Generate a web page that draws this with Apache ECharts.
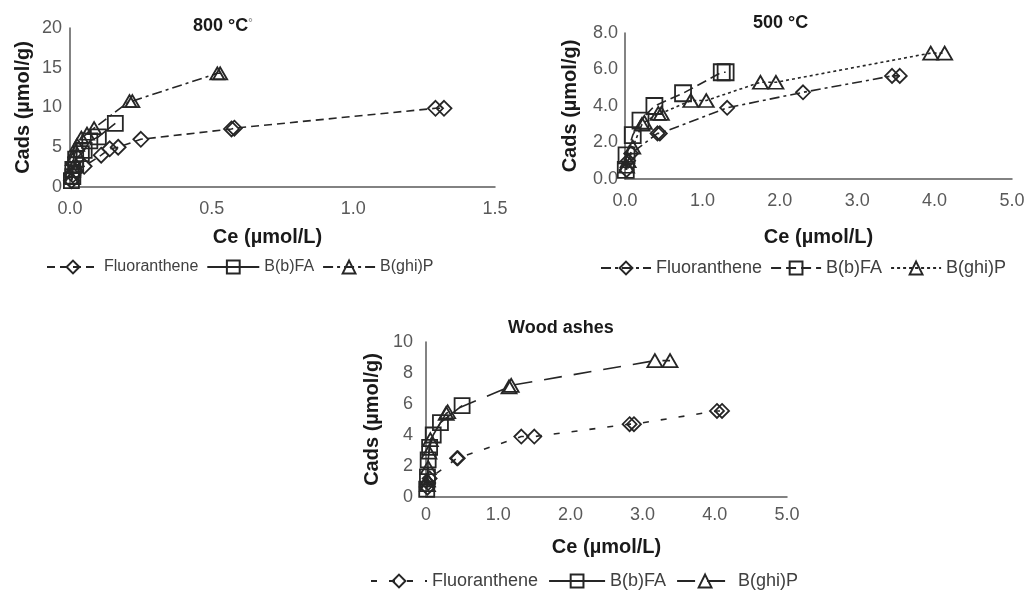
<!DOCTYPE html>
<html>
<head>
<meta charset="utf-8">
<script src="https://cdn.jsdelivr.net/npm/echarts@6/dist/echarts.min.js"></script>
<style>
html, body { margin: 0; padding: 0; background: #fff; }
#myChart { width: 1027px; height: 591px; }
</style>
</head>
<body>
<div id="myChart"></div>
<script>
// 800 °C panel  [Ce, Cads]
const fluo800 = [[0.005, 0.8], [0.01, 1.5], [0.02, 2.0], [0.05, 2.6], [0.11, 4.0], [0.14, 4.8], [0.17, 5.0], [0.25, 6.0], [0.57, 7.3], [0.58, 7.4], [1.29, 9.9], [1.32, 9.9]]
const bbfa800 = [[0.005, 0.8], [0.01, 1.3], [0.01, 2.2], [0.02, 2.8], [0.02, 3.5], [0.04, 4.2], [0.05, 4.6], [0.07, 5.8], [0.1, 6.3], [0.16, 8.0]]
const bghip800 = [[0.005, 1.2], [0.01, 2.5], [0.01, 3.5], [0.02, 4.5], [0.025, 5.3], [0.04, 6.2], [0.06, 6.7], [0.085, 7.4], [0.21, 10.8], [0.22, 10.8], [0.52, 14.3], [0.53, 14.3]]
// 500 °C panel
const fluo500 = [[0.02, 0.5], [0.04, 1.0], [0.08, 1.4], [0.42, 2.5], [0.45, 2.5], [1.32, 3.9], [2.3, 4.75], [3.45, 5.65], [3.55, 5.65]]
const bbfa500 = [[0.01, 0.5], [0.02, 1.3], [0.1, 2.4], [0.2, 3.2], [0.38, 4.0], [0.75, 4.7], [1.25, 5.85], [1.3, 5.85]]
const bghip500 = [[0.02, 0.7], [0.04, 1.0], [0.1, 1.75], [0.22, 3.0], [0.25, 3.1], [0.43, 3.6], [0.47, 3.6], [0.85, 4.3], [1.05, 4.3], [1.75, 5.3], [1.95, 5.3], [3.95, 6.9], [4.13, 6.9]]
// Wood ashes panel
const fluoWood = [[0.02, 0.6], [0.03, 0.9], [0.05, 1.2], [0.43, 2.5], [0.44, 2.5], [1.32, 3.9], [1.5, 3.9], [2.82, 4.7], [2.88, 4.7], [4.03, 5.55], [4.1, 5.55]]
const bbfaWood = [[0.01, 0.5], [0.02, 1.3], [0.03, 2.4], [0.05, 3.2], [0.1, 4.0], [0.2, 4.8], [0.5, 5.9]]
const bghipWood = [[0.02, 0.8], [0.02, 1.1], [0.03, 1.9], [0.04, 2.9], [0.06, 3.7], [0.28, 5.4], [0.3, 5.5], [1.15, 7.1], [1.18, 7.2], [3.17, 8.8], [3.38, 8.8]]

// tick labels
const xTicks800 = ['0.0', '0.5', '1.0', '1.5']
const yTicks800 = ['0', '5', '10', '15', '20']
const xTicks500 = ['0.0', '1.0', '2.0', '3.0', '4.0', '5.0']
const yTicks500 = ['0.0', '2.0', '4.0', '6.0', '8.0']
const xTicksWood = ['0', '1.0', '2.0', '3.0', '4.0', '5.0']
const yTicksWood = ['0', '2', '4', '6', '8', '10']

const titles = ['800 °C{s|°}', '500 °C', 'Wood ashes']
const seriesNames = ['Fluoranthene', 'B(b)FA', 'B(ghi)P']

const FONT = '"Liberation Sans", Arial, sans-serif'
const INK = '#262626'

function tickAxis (ticks, idx, name, gap, nameStyle, labelMargin) {
  let min = parseFloat(ticks[0])
  let max = parseFloat(ticks[ticks.length - 1])
  let step = (max - min) / (ticks.length - 1)
  return {
    type: 'value',
    gridIndex: idx,
    min: min,
    max: max,
    interval: step,
    name: name,
    nameLocation: 'middle',
    nameGap: gap,
    nameTextStyle: Object.assign({ fontSize: 20, fontWeight: 'bold', color: '#1a1a1a', fontFamily: FONT }, nameStyle),
    splitLine: { show: false },
    axisTick: { show: false },
    axisLine: { onZero: false, lineStyle: { color: '#5a5a5a', width: 1.5 } },
    axisLabel: {
      fontSize: 18,
      color: '#595959',
      fontFamily: FONT,
      margin: labelMargin,
      formatter: function (v) { return ticks[Math.round((v - min) / step)] }
    }
  }
}

function mkSeries (name, idx, data, symbol, size, dash) {
  return {
    name: name + '|' + idx,
    type: 'line',
    xAxisIndex: idx,
    yAxisIndex: idx,
    data: data,
    symbol: symbol,
    symbolSize: size,
    lineStyle: { color: INK, width: 1.6, type: dash },
    itemStyle: { color: 'rgba(255,255,255,0)', borderColor: INK, borderWidth: 1.8 },
    emphasis: { disabled: true }
  }
}

function mkLegend (idx, left, top, iconW, gap, fontSize) {
  return {
    data: seriesNames.map(n => n + '|' + idx),
    left: left,
    top: top,
    width: 600,
    padding: 0,
    itemWidth: iconW,
    itemHeight: 16,
    itemGap: gap,
    selectedMode: false,
    formatter: function (n) { return n.split('|')[0] },
    textStyle: { fontSize: fontSize, color: '#404040', fontFamily: FONT }
  }
}

function drawChart () {
  let myChart = echarts.init(document.getElementById('myChart'))
  myChart.setOption({
    animation: false,
    backgroundColor: '#fff',
    title: [
      { text: titles[0], left: 193, top: 17, padding: 0, textStyle: { fontSize: 18, fontWeight: 'bold', color: '#1a1a1a', fontFamily: FONT, rich: { s: { fontSize: 11, color: '#9a9a9a', verticalAlign: 'top', fontFamily: FONT } } } },
      { text: titles[1], left: 753, top: 14, padding: 0, textStyle: { fontSize: 18, fontWeight: 'bold', color: '#1a1a1a', fontFamily: FONT } },
      { text: titles[2], left: 508, top: 319, padding: 0, textStyle: { fontSize: 18, fontWeight: 'bold', color: '#1a1a1a', fontFamily: FONT } }
    ],
    legend: [
      mkLegend(0, 46, 259, 52, 8, 16),
      mkLegend(1, 600, 259, 50, 8, 18),
      mkLegend(2, 370, 572, 56, 10, 18)
    ],
    grid: [
      { left: 70, top: 28, width: 425, height: 159, outerBoundsMode: 'none' },
      { left: 625, top: 33, width: 387, height: 146, outerBoundsMode: 'none' },
      { left: 426, top: 342, width: 361, height: 155, outerBoundsMode: 'none' }
    ],
    xAxis: [
      tickAxis(xTicks800, 0, 'Ce (µmol/L)', 40, { padding: [0, 30, 0, 0] }, 13),
      tickAxis(xTicks500, 1, 'Ce (µmol/L)', 48, {}, 13),
      tickAxis(xTicksWood, 2, 'Ce (µmol/L)', 40, {}, 9)
    ],
    yAxis: [
      tickAxis(yTicks800, 0, 'Cads (µmol/g)', 37, {}, 8),
      tickAxis(yTicks500, 1, 'Cads (µmol/g)', 45, {}, 7),
      tickAxis(yTicksWood, 2, 'Cads (µmol/g)', 44, {}, 13)
    ],
    series: [
      mkSeries(seriesNames[0], 0, fluo800, 'diamond', 15, [8, 5]),
      mkSeries(seriesNames[1], 0, bbfa800, 'rect', 15, 'solid'),
      mkSeries(seriesNames[2], 0, bghip800, 'triangle', [14, 12], [10, 4, 3, 4]),
      mkSeries(seriesNames[0], 1, fluo500, 'diamond', 14, [10, 4, 3, 4]),
      mkSeries(seriesNames[1], 1, bbfa500, 'rect', 16, [10, 5]),
      mkSeries(seriesNames[2], 1, bghip500, 'triangle', [15, 13], [3, 3]),
      mkSeries(seriesNames[0], 2, fluoWood, 'diamond', 14, [6, 12]),
      mkSeries(seriesNames[1], 2, bbfaWood, 'rect', 15, 'solid'),
      mkSeries(seriesNames[2], 2, bghipWood, 'triangle', [15, 13], [18, 12])
    ]
  })
}

drawChart()
</script>
</body>
</html>
